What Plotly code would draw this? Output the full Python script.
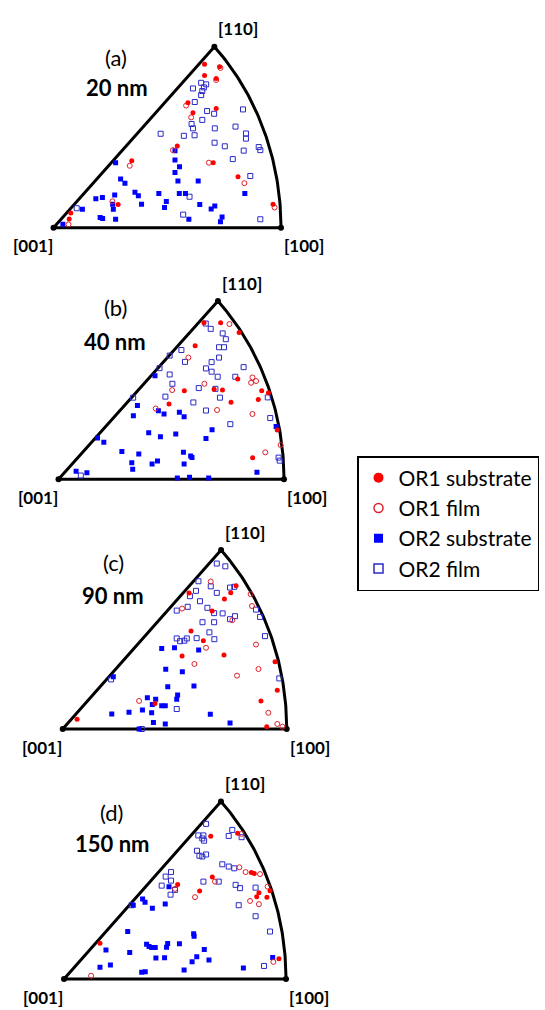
import numpy as np
import plotly.graph_objects as go

# ---------------- data (normalised inverse-pole-figure coordinates: [001]=(0,0), [100]=(100,0), [110]=(70.7,70.7)) ----------
PANEL_TAGS = ["(a)", "(b)", "(c)", "(d)"]
THICKNESS = ["20 nm", "40 nm", "90 nm", "150 nm"]
CORNER_LABELS = ["[001]", "[100]", "[110]"]
CORNER_X = [0.0, 100.0, 70.71]
CORNER_Y = [0.0, 0.0, 70.71]
SERIES_NAMES = ["OR1 substrate", "OR1 film", "OR2 substrate", "OR2 film"]

# panel (a) 20 nm
A_OR1_SUB_X = [66.4, 73.0, 66.4, 71.5, 59.1, 61.3, 71.5, 54.4, 34.4, 70.2, 81.1, 28.4, 96.5, 7.6, 6.9]
A_OR1_SUB_Y = [63.8, 62.9, 59.5, 58.3, 48.8, 44.9, 46.6, 31.9, 26.2, 25.4, 19.9, 9.1, 9.2, 5.7, 3.4]
A_OR1_FILM_X = [73.4, 71.5, 58.3, 60.5, 52.5, 33.5, 68.3, 83.9, 25.9, 97.2, 6.6]
A_OR1_FILM_Y = [62.4, 57.7, 47.7, 43.1, 30.3, 24.2, 25.4, 17.4, 10.3, 7.9, 1.3]
A_OR2_SUB_X = [27.3, 29.5, 31.4, 53.4, 53.4, 55.4, 53.4, 54.7, 63.6, 84.1, 35.8, 37.3, 26.9, 21.5, 18.6, 38.7,
               46.3, 55.3, 58.0, 49.6, 48.8, 64.3, 70.9, 69.3, 26.0, 26.3, 12.7, 20.5, 21.6, 27.3, 59.5, 74.1,
               73.4, 4.1]
A_OR2_SUB_Y = [25.4, 19.0, 17.4, 30.1, 26.4, 23.8, 21.6, 18.2, 18.2, 13.4, 13.8, 12.5, 12.8, 11.8, 11.3, 9.2,
               13.4, 13.4, 13.4, 10.2, 7.9, 9.1, 8.5, 7.3, 9.2, 7.2, 7.2, 4.0, 3.6, 3.3, 3.3, 4.2,
               2.3, 1.3]
A_OR2_FILM_X = [64.9, 67.1, 66.1, 61.3, 65.4, 64.9, 62.1, 67.5, 70.6, 65.4, 60.7, 61.3, 83.3, 47.1, 57.3, 62.0,
                70.9, 80.0, 84.6, 84.6, 70.8, 75.3, 90.2, 90.9, 83.6, 78.8, 86.5, 59.8, 10.2, 57.0, 90.9]
A_OR2_FILM_Y = [56.6, 56.0, 54.8, 54.4, 53.4, 51.8, 49.1, 45.6, 44.5, 42.1, 40.5, 38.8, 46.2, 36.7, 35.9, 36.1,
                38.8, 39.5, 36.8, 34.8, 33.2, 31.8, 31.5, 30.3, 30.1, 26.8, 20.2, 12.1, 7.6, 5.1, 3.3]

# panel (b) 40 nm
B_OR1_SUB_X = [64.5, 71.9, 80.1, 60.6, 55.8, 49.0, 69.0, 72.7, 76.5, 88.6, 90.1, 93.1, 79.5, 97.0, 86.1]
B_OR1_SUB_Y = [62.1, 62.1, 58.3, 53.0, 35.1, 29.9, 35.7, 35.4, 30.6, 31.7, 35.1, 34.3, 39.8, 19.6, 8.6]
B_OR1_FILM_X = [75.8, 57.6, 50.4, 64.7, 70.3, 43.1, 86.0, 87.6, 85.4, 86.0, 91.7, 98.5]
B_OR1_FILM_Y = [61.6, 48.3, 35.4, 37.9, 27.5, 28.1, 40.4, 39.0, 38.3, 25.9, 10.7, 13.6]
B_OR2_SUB_X = [42.8, 35.0, 33.2, 44.3, 46.8, 53.6, 55.7, 17.3, 20.1, 40.0, 45.2, 52.0, 68.1, 65.4, 28.1, 35.6,
               55.4, 58.6, 59.2, 32.5, 32.9, 43.9, 41.5, 55.7, 7.8, 12.6, 88.0, 96.5, 52.7, 58.1, 66.6]
B_OR2_SUB_Y = [41.1, 29.3, 25.2, 27.2, 25.9, 26.6, 24.8, 16.4, 14.7, 18.5, 16.9, 18.0, 19.7, 16.2, 11.0, 10.0,
               10.7, 9.2, 8.7, 6.6, 4.0, 7.3, 6.1, 6.1, 3.2, 2.6, 2.8, 21.0, 0.5, 0.8, 0.5]
B_OR2_FILM_X = [65.3, 67.5, 72.8, 74.2, 71.2, 73.4, 54.5, 49.3, 56.1, 67.9, 71.2, 65.4, 67.9, 70.6, 78.4, 82.1,
                49.3, 44.8, 50.5, 62.2, 47.4, 59.8, 69.6, 71.6, 65.4, 33.1, 76.2, 93.9, 92.8, 97.6, 98.1, 9.9]
B_OR2_FILM_Y = [61.8, 59.7, 57.9, 55.6, 52.4, 52.4, 51.3, 49.1, 46.6, 46.5, 48.3, 44.0, 42.7, 40.7, 40.7, 44.5,
                41.6, 44.1, 37.9, 36.2, 32.8, 30.5, 35.9, 32.4, 27.3, 32.4, 21.9, 24.3, 32.5, 8.6, 7.4, 1.5]

# panel (c) 90 nm
C_OR1_SUB_X = [77.4, 75.0, 72.2, 66.7, 56.4, 57.3, 62.8, 53.3, 72.0, 94.8, 95.8, 88.5, 41.2, 6.4, 91.1]
C_OR1_SUB_Y = [56.6, 53.9, 51.4, 46.6, 53.8, 38.7, 34.9, 28.9, 29.2, 26.6, 15.3, 11.1, 10.1, 3.9, 0.9]
C_OR1_FILM_X = [66.1, 75.7, 53.3, 64.0, 58.8, 77.8, 87.4, 86.3, 84.5, 83.9, 34.1, 91.8, 95.8, 98.1]
C_OR1_FILM_Y = [58.3, 43.0, 47.6, 32.1, 25.7, 21.1, 23.7, 33.4, 48.6, 53.3, 11.1, 6.4, 2.0, 0.9]
C_OR2_SUB_X = [44.2, 49.9, 60.7, 46.0, 53.4, 22.6, 46.9, 58.6, 51.3, 50.9, 37.8, 41.5, 40.0, 44.2, 45.8, 35.6,
               39.7, 29.6, 21.9, 65.9, 40.5, 45.8, 74.7, 34.1]
C_OR2_SUB_Y = [31.8, 32.1, 31.2, 23.6, 22.6, 20.7, 16.7, 17.0, 13.4, 11.8, 12.4, 11.8, 9.7, 9.2, 9.2, 7.5,
               6.4, 6.6, 5.9, 5.8, 2.6, 2.0, 2.4, 0.0]
C_OR2_FILM_X = [68.8, 72.6, 60.6, 66.1, 68.8, 74.7, 76.6, 56.8, 59.5, 61.3, 55.8, 50.9, 64.6, 71.4, 74.7, 76.9,
                67.6, 62.4, 67.6, 65.5, 59.8, 67.7, 50.9, 52.4, 54.3, 55.4, 86.3, 88.1, 90.3, 96.7, 21.6, 50.9,
                35.3]
C_OR2_FILM_Y = [65.4, 64.3, 58.4, 56.4, 53.8, 55.9, 56.2, 52.5, 54.6, 50.5, 48.3, 46.8, 47.9, 45.7, 43.4, 44.6,
                45.8, 42.2, 42.2, 38.2, 35.9, 35.5, 35.8, 34.7, 34.9, 35.8, 47.2, 44.3, 36.7, 20.0, 19.6, 7.9,
                0.0]

# panel (d) 150 nm
D_OR1_SUB_X = [66.1, 78.2, 66.8, 51.2, 61.1, 84.4, 85.7, 92.8, 87.8, 86.8, 91.4, 16.2, 96.8]
D_OR1_SUB_Y = [56.9, 58.1, 40.6, 37.6, 35.1, 42.4, 42.0, 35.2, 34.4, 32.8, 32.6, 14.2, 8.1]
D_OR1_FILM_X = [80.0, 79.0, 81.8, 68.0, 50.0, 59.0, 91.7, 83.8, 87.8, 88.3, 94.3, 12.2]
D_OR1_FILM_Y = [57.8, 44.5, 42.6, 38.8, 35.9, 32.6, 36.8, 31.1, 29.8, 41.8, 6.8, 1.3]
D_OR2_SUB_X = [35.4, 31.2, 36.5, 39.8, 45.6, 47.3, 28.7, 58.4, 58.6, 37.2, 38.3, 39.5, 41.1, 46.7, 46.2, 52.0,
               63.2, 18.9, 29.6, 41.4, 45.3, 59.8, 57.7, 65.3, 94.0, 16.2, 20.9, 54.1, 80.8, 35.0, 36.6]
D_OR2_SUB_Y = [31.9, 29.4, 30.6, 28.2, 29.9, 36.8, 18.9, 18.0, 17.0, 13.8, 12.9, 12.5, 12.5, 14.1, 12.6, 14.0,
               11.8, 11.6, 10.6, 8.4, 8.5, 8.9, 6.9, 7.6, 8.6, 4.7, 5.6, 3.6, 4.4, 2.7, 2.9]
D_OR2_FILM_X = [64.0, 60.5, 62.8, 62.3, 63.1, 59.9, 61.0, 62.3, 64.0, 75.8, 74.2, 80.0, 71.3, 74.2, 76.7, 48.2,
                45.8, 48.2, 44.0, 50.0, 48.0, 62.8, 69.7, 77.3, 79.3, 86.3, 78.7, 86.3, 92.8, 90.1, 30.5]
D_OR2_FILM_Y = [61.8, 57.2, 57.2, 56.0, 55.1, 51.1, 49.1, 48.8, 49.6, 59.4, 57.0, 56.5, 45.7, 44.8, 44.1, 42.6,
                40.8, 39.2, 37.2, 35.5, 33.6, 38.8, 38.8, 37.5, 36.2, 36.4, 29.4, 25.0, 18.9, 5.2, 29.4]

PANELS = [
    dict(or1s=(A_OR1_SUB_X, A_OR1_SUB_Y), or1f=(A_OR1_FILM_X, A_OR1_FILM_Y),
         or2s=(A_OR2_SUB_X, A_OR2_SUB_Y), or2f=(A_OR2_FILM_X, A_OR2_FILM_Y)),
    dict(or1s=(B_OR1_SUB_X, B_OR1_SUB_Y), or1f=(B_OR1_FILM_X, B_OR1_FILM_Y),
         or2s=(B_OR2_SUB_X, B_OR2_SUB_Y), or2f=(B_OR2_FILM_X, B_OR2_FILM_Y)),
    dict(or1s=(C_OR1_SUB_X, C_OR1_SUB_Y), or1f=(C_OR1_FILM_X, C_OR1_FILM_Y),
         or2s=(C_OR2_SUB_X, C_OR2_SUB_Y), or2f=(C_OR2_FILM_X, C_OR2_FILM_Y)),
    dict(or1s=(D_OR1_SUB_X, D_OR1_SUB_Y), or1f=(D_OR1_FILM_X, D_OR1_FILM_Y),
         or2s=(D_OR2_SUB_X, D_OR2_SUB_Y), or2f=(D_OR2_FILM_X, D_OR2_FILM_Y)),
]

# ---------------- layout (pixel geometry of each triangle) ----------------
W, H = 545, 1010
# [001] corner pixel position, px per unit in x and y
GEOM = [(53.5, 227.7, 2.275, 2.56), (58.5, 479.3, 2.255, 2.52),
        (62.7, 729.0, 2.24, 2.53), (64.0, 979.0, 2.22, 2.51)]
TAG_POS = [(116, 57), (115, 307), (113, 562), (111, 812)]
THK_POS = [(117, 88), (115, 341), (113, 595), (112, 843)]
XR = (-8, 108)
YR = (-8, 78)

FONT = "Lato, 'Open Sans', sans-serif"
RED = "#ff0000"
RED_OPEN = "#e0202a"
BLUE = "#0000ff"
BLUE_OPEN = "#2a2ac8"

fig = go.Figure()
arc_t = np.linspace(0, np.pi / 4, 80)
R = CORNER_X[1]
bx = [CORNER_X[0], CORNER_X[1]] + list(R * np.cos(arc_t)) + [CORNER_X[0]]
by = [CORNER_Y[0], CORNER_Y[1]] + list(R * np.sin(arc_t)) + [CORNER_Y[0]]

layout_axes = {}
annotations = []
for i, (p, (x0, y0, sx, sy)) in enumerate(zip(PANELS, GEOM)):
    n = i + 1
    xa = "x" if n == 1 else f"x{n}"
    ya = "y" if n == 1 else f"y{n}"
    xdom = [(x0 + XR[0] * sx) / W, (x0 + XR[1] * sx) / W]
    ydom = [1 - (y0 - YR[0] * sy) / H, 1 - (y0 - YR[1] * sy) / H]
    layout_axes[f"xaxis{'' if n == 1 else n}"] = dict(domain=xdom, range=list(XR), visible=False,
                                                       anchor=ya, fixedrange=True)
    layout_axes[f"yaxis{'' if n == 1 else n}"] = dict(domain=ydom, range=list(YR), visible=False,
                                                       anchor=xa, fixedrange=True)
    fig.add_trace(go.Scatter(x=bx, y=by, mode="lines", line=dict(color="black", width=3),
                             xaxis=xa, yaxis=ya, showlegend=False, hoverinfo="skip"))
    fig.add_trace(go.Scatter(x=CORNER_X, y=CORNER_Y, mode="markers", marker=dict(color="black", size=6),
                             xaxis=xa, yaxis=ya, showlegend=False, hoverinfo="skip"))
    fig.add_trace(go.Scatter(x=p["or2f"][0], y=p["or2f"][1], mode="markers", xaxis=xa, yaxis=ya,
                             marker=dict(symbol="square-open", size=5, color=BLUE_OPEN, line=dict(width=1)),
                             showlegend=False, name=SERIES_NAMES[3]))
    fig.add_trace(go.Scatter(x=p["or2s"][0], y=p["or2s"][1], mode="markers", xaxis=xa, yaxis=ya,
                             marker=dict(symbol="square", size=5, color=BLUE),
                             showlegend=False, name=SERIES_NAMES[2]))
    fig.add_trace(go.Scatter(x=p["or1f"][0], y=p["or1f"][1], mode="markers", xaxis=xa, yaxis=ya,
                             marker=dict(symbol="circle-open", size=5, color=RED_OPEN, line=dict(width=1)),
                             showlegend=False, name=SERIES_NAMES[1]))
    fig.add_trace(go.Scatter(x=p["or1s"][0], y=p["or1s"][1], mode="markers", xaxis=xa, yaxis=ya,
                             marker=dict(symbol="circle", size=5, color=RED),
                             showlegend=False, name=SERIES_NAMES[0]))
    # corner labels
    for lab, cx, cy, xs, ys in zip(CORNER_LABELS, CORNER_X, CORNER_Y, [-21, 23, 24], [-18, -18, 18]):
        annotations.append(dict(text=f"<b>{lab}</b>", x=cx, y=cy, xref=xa, yref=ya, xshift=xs, yshift=ys,
                                xanchor="center", yanchor="middle",
                                showarrow=False, font=dict(family=FONT, size=17, color="black")))
    tx, ty = TAG_POS[i]
    annotations.append(dict(text=PANEL_TAGS[i], x=tx / W, y=1 - ty / H, xref="paper", yref="paper",
                            xanchor="center", yanchor="middle",
                            showarrow=False, font=dict(family=FONT, size=22, color="black")))
    kx, ky = THK_POS[i]
    annotations.append(dict(text=f"<b>{THICKNESS[i]}</b>", x=kx / W, y=1 - ky / H, xref="paper",
                            yref="paper", xanchor="center", yanchor="middle",
                            showarrow=False, font=dict(family=FONT, size=22, color="black")))

# legend entries (larger symbols than the data markers)
leg_styles = [dict(symbol="circle", size=10, color=RED),
              dict(symbol="circle-open", size=9, color=RED_OPEN, line=dict(width=1.5)),
              dict(symbol="square", size=9, color=BLUE),
              dict(symbol="square-open", size=9, color=BLUE_OPEN, line=dict(width=1.5))]
for name, st in zip(SERIES_NAMES, leg_styles):
    fig.add_trace(go.Scatter(x=[None], y=[None], mode="markers", marker=st, name=name, showlegend=True))

fig.update_layout(
    width=W, height=H,
    margin=dict(l=0, r=0, t=0, b=0, autoexpand=False),
    paper_bgcolor="white", plot_bgcolor="white",
    showlegend=True,
    legend=dict(x=357 / W, y=1 - 456 / H, xanchor="left", yanchor="top",
                bordercolor="black", borderwidth=1.5, bgcolor="white",
                font=dict(family=FONT, size=21, color="black"), tracegroupgap=0,
                itemwidth=30),
    annotations=annotations,
    **layout_axes,
)
fig.write_html("out.html", config={"displayModeBar": False},
               post_script="document.body.style.margin='0';document.body.style.padding='0';")
